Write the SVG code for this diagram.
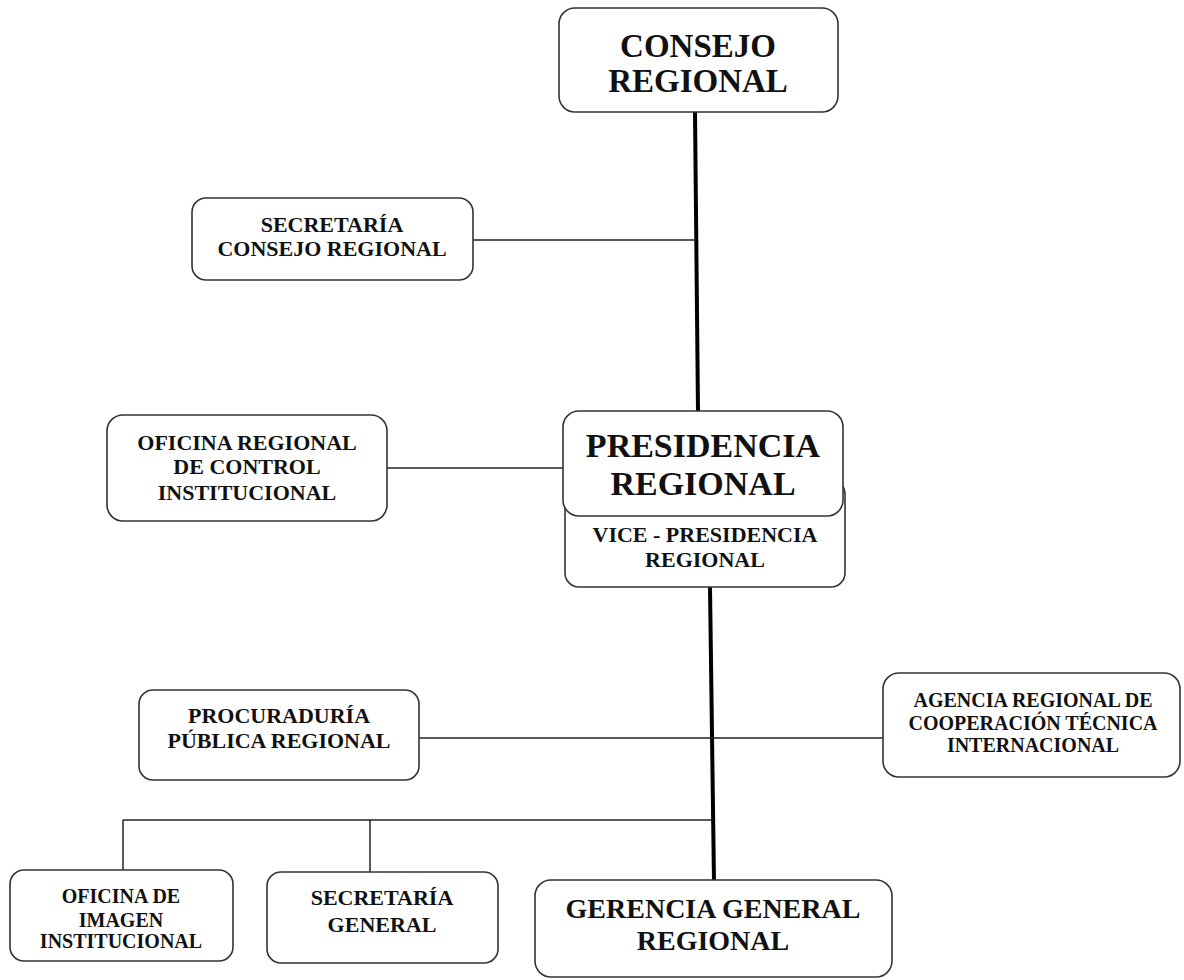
<svg xmlns="http://www.w3.org/2000/svg" width="1184" height="980" viewBox="0 0 1184 980">
<style>
.box{fill:#fff;stroke:#333;stroke-width:1.6}
.t{font-family:"Liberation Serif","Times New Roman",serif;font-weight:bold;fill:#111;text-anchor:middle}
.thin{stroke:#222;stroke-width:1.5;fill:none}
.thick{stroke:#000;stroke-width:4;fill:none}
</style>
<rect width="1184" height="980" fill="#fff"/>
<g id="connectors">
<line class="thick" x1="695" y1="112" x2="698" y2="412"/>
<line class="thin" x1="473" y1="240" x2="696" y2="240"/>
<line class="thin" x1="387" y1="468" x2="564" y2="468"/>
<line class="thick" x1="710" y1="587" x2="714" y2="882"/>
<line class="thin" x1="419" y1="738" x2="883" y2="738"/>
<line class="thin" x1="123" y1="820" x2="713" y2="820"/>
<line class="thin" x1="123" y1="820" x2="123" y2="871"/>
<line class="thin" x1="370" y1="820" x2="370" y2="872"/>
</g>
<g id="consejo">
<rect class="box" x="559" y="8" width="279" height="104" rx="16"/>
<text class="t" x="698" y="57" font-size="33">CONSEJO</text>
<text class="t" x="698" y="92" font-size="33">REGIONAL</text>
</g>
<g id="secretaria-consejo">
<rect class="box" x="192" y="198" width="281" height="82" rx="14"/>
<text class="t" x="332" y="232" font-size="22">SECRETARÍA</text>
<text class="t" x="332" y="256" font-size="22">CONSEJO REGIONAL</text>
</g>
<g id="oficina-control">
<rect class="box" x="107" y="415" width="280" height="106" rx="16"/>
<text class="t" x="247" y="450" font-size="22">OFICINA REGIONAL</text>
<text class="t" x="247" y="474" font-size="22">DE CONTROL</text>
<text class="t" x="247" y="500" font-size="22">INSTITUCIONAL</text>
</g>
<g id="vicepresidencia">
<rect class="box" x="565" y="480" width="280" height="107" rx="14"/>
<text class="t" x="705" y="542" font-size="22">VICE - PRESIDENCIA</text>
<text class="t" x="705" y="567" font-size="22">REGIONAL</text>
</g>
<g id="presidencia">
<rect class="box" x="563" y="411" width="280" height="105" rx="16"/>
<text class="t" x="703" y="457" font-size="34">PRESIDENCIA</text>
<text class="t" x="703" y="495" font-size="34">REGIONAL</text>
</g>
<g id="procuraduria">
<rect class="box" x="139" y="690" width="280" height="90" rx="14"/>
<text class="t" x="279" y="723" font-size="22">PROCURADURÍA</text>
<text class="t" x="279" y="748" font-size="22">PÚBLICA REGIONAL</text>
</g>
<g id="agencia">
<rect class="box" x="883" y="673" width="297" height="104" rx="16"/>
<text class="t" x="1033" y="707" font-size="20">AGENCIA REGIONAL DE</text>
<text class="t" x="1033" y="730" font-size="20">COOPERACIÓN TÉCNICA</text>
<text class="t" x="1033" y="752" font-size="20">INTERNACIONAL</text>
</g>
<g id="oficina-imagen">
<rect class="box" x="10" y="870" width="223" height="91" rx="14"/>
<text class="t" x="121" y="903" font-size="20">OFICINA DE</text>
<text class="t" x="121" y="927" font-size="20">IMAGEN</text>
<text class="t" x="121" y="948" font-size="20">INSTITUCIONAL</text>
</g>
<g id="secretaria-general">
<rect class="box" x="267" y="872" width="231" height="91" rx="14"/>
<text class="t" x="382" y="905" font-size="22">SECRETARÍA</text>
<text class="t" x="382" y="932" font-size="22">GENERAL</text>
</g>
<g id="gerencia">
<rect class="box" x="535" y="880" width="357" height="97" rx="16"/>
<text class="t" x="713" y="918" font-size="28">GERENCIA GENERAL</text>
<text class="t" x="713" y="950" font-size="28">REGIONAL</text>
</g>
</svg>
